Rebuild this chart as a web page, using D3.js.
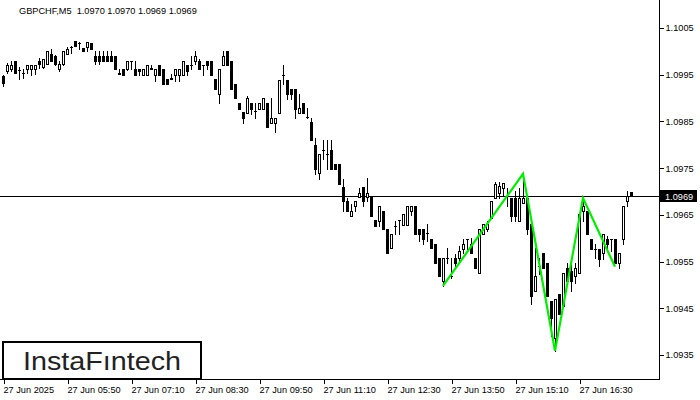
<!DOCTYPE html>
<html><head><meta charset="utf-8">
<script src="https://cdn.jsdelivr.net/npm/d3@7"></script>
<style>
html,body{margin:0;padding:0;background:#fff;}
svg{display:block;}
text{font-family:"Liberation Sans",Arial,sans-serif;}
</style></head>
<body>
<svg id="c" width="700" height="400"></svg>
<script>
const symbolTitle = "GBPCHF,M5  1.0970 1.0970 1.0969 1.0969";
const openV = [1.09947,1.09958,1.09962,1.09980,1.09960,1.09954,1.09962,1.09962,1.09962,1.09980,
1.09967,1.09973,1.09995,1.09990,1.09962,1.09973,1.09995,1.10010,1.10022,1.10018,
1.10007,1.10010,1.10018,1.09990,1.09990,1.09990,1.09990,1.09990,1.09990,1.09952,
1.09962,1.09962,1.09980,1.09962,1.09962,1.09950,1.09950,1.09962,1.09950,1.09971,
1.09962,1.09941,1.09941,1.09950,1.09950,1.09950,1.09971,1.09971,1.09980,1.09980,
1.09971,1.09980,1.09980,1.09941,1.09909,1.09971,1.10001,1.09980,1.09930,1.09890,
1.09870,1.09868,1.09890,1.09873,1.09877,1.09877,1.09890,1.09847,1.09847,1.09868,
1.09950,1.09939,1.09920,1.09920,1.09868,1.09890,1.09860,1.09849,1.09800,1.09740,
1.09789,1.09781,1.09789,1.09759,1.09759,1.09710,1.09680,1.09648,1.09669,1.09689,
1.09710,1.09689,1.09689,1.09639,1.09637,1.09659,1.09620,1.09579,1.09626,1.09639,
1.09629,1.09629,1.09659,1.09669,1.09620,1.09620,1.09611,1.09599,1.09588,1.09558,
1.09509,1.09558,1.09519,1.09558,1.09558,1.09577,1.09599,1.09588,1.09558,1.09526,
1.09609,1.09620,1.09644,1.09686,1.09697,1.09708,1.09691,1.09686,1.09686,1.09637,
1.09676,1.09686,1.09631,1.09487,1.09541,1.09569,1.09547,1.09466,1.09387,1.09481,
1.09455,1.09537,1.09530,1.09519,1.09526,1.09659,1.09659,1.09599,1.09577,1.09577,
1.09569,1.09599,1.09599,1.09599,1.09547,1.09599,1.09680,1.09700];
const highV = [1.09950,1.09975,1.09980,1.09980,1.09967,1.09962,1.09971,1.09971,1.09971,1.09986,
1.09984,1.10001,1.10005,1.09992,1.09980,1.10001,1.10010,1.10012,1.10022,1.10020,
1.10007,1.10020,1.10018,1.10001,1.10001,1.10001,1.10001,1.10001,1.09990,1.09962,
1.09962,1.09980,1.09980,1.09980,1.09962,1.09962,1.09971,1.09971,1.09962,1.09971,
1.09962,1.09941,1.09952,1.09962,1.09962,1.09980,1.09971,1.09990,1.10001,1.09984,
1.09971,1.09980,1.09980,1.09941,1.09962,1.10001,1.10001,1.09980,1.09930,1.09890,
1.09870,1.09905,1.09890,1.09890,1.09890,1.09900,1.09890,1.09900,1.09858,1.09939,
1.09971,1.09939,1.09920,1.09920,1.09909,1.09890,1.09879,1.09858,1.09815,1.09781,
1.09811,1.09811,1.09811,1.09759,1.09759,1.09727,1.09686,1.09674,1.09680,1.09708,
1.09710,1.09729,1.09689,1.09639,1.09669,1.09659,1.09620,1.09609,1.09637,1.09639,
1.09652,1.09669,1.09669,1.09669,1.09620,1.09620,1.09631,1.09599,1.09588,1.09558,
1.09558,1.09579,1.09558,1.09567,1.09584,1.09599,1.09599,1.09601,1.09558,1.09620,
1.09631,1.09637,1.09680,1.09721,1.09721,1.09718,1.09708,1.09686,1.09701,1.09708,
1.09738,1.09686,1.09631,1.09579,1.09558,1.09569,1.09547,1.09466,1.09470,1.09481,
1.09526,1.09547,1.09547,1.09547,1.09652,1.09686,1.09659,1.09599,1.09588,1.09577,
1.09609,1.09605,1.09599,1.09599,1.09569,1.09669,1.09701,1.09700];
const lowV = [1.09926,1.09954,1.09958,1.09954,1.09941,1.09943,1.09954,1.09950,1.09952,1.09965,
1.09965,1.09973,1.09980,1.09971,1.09958,1.09971,1.09995,1.09997,1.10012,1.10005,
1.10001,1.10001,1.10005,1.09973,1.09973,1.09980,1.09980,1.09980,1.09962,1.09952,
1.09950,1.09960,1.09962,1.09950,1.09950,1.09950,1.09950,1.09962,1.09937,1.09950,
1.09930,1.09930,1.09941,1.09937,1.09937,1.09950,1.09950,1.09962,1.09973,1.09962,
1.09950,1.09962,1.09950,1.09920,1.09890,1.09971,1.09971,1.09920,1.09900,1.09877,
1.09847,1.09868,1.09866,1.09858,1.09877,1.09877,1.09838,1.09847,1.09828,1.09868,
1.09930,1.09898,1.09898,1.09858,1.09868,1.09868,1.09858,1.09811,1.09738,1.09727,
1.09770,1.09748,1.09748,1.09748,1.09716,1.09659,1.09659,1.09648,1.09659,1.09689,
1.09669,1.09680,1.09648,1.09626,1.09626,1.09620,1.09569,1.09579,1.09609,1.09609,
1.09629,1.09629,1.09650,1.09609,1.09594,1.09588,1.09594,1.09579,1.09547,1.09519,
1.09498,1.09547,1.09515,1.09537,1.09547,1.09569,1.09573,1.09569,1.09537,1.09526,
1.09609,1.09616,1.09644,1.09686,1.09686,1.09691,1.09669,1.09637,1.09637,1.09637,
1.09676,1.09609,1.09460,1.09487,1.09524,1.09537,1.09477,1.09391,1.09359,1.09438,
1.09455,1.09509,1.09487,1.09505,1.09526,1.09637,1.09609,1.09577,1.09558,1.09541,
1.09556,1.09573,1.09573,1.09547,1.09537,1.09588,1.09669,1.09690];
const closeV = [1.09932,1.09971,1.09971,1.09954,1.09960,1.09954,1.09971,1.09971,1.09971,1.09973,
1.09984,1.10001,1.09980,1.09973,1.09973,1.10001,1.10005,1.10010,1.10012,1.10018,
1.10001,1.10020,1.10005,1.09980,1.09980,1.09980,1.09980,1.09980,1.09962,1.09954,
1.09950,1.09980,1.09980,1.09950,1.09958,1.09962,1.09971,1.09965,1.09962,1.09950,
1.09930,1.09930,1.09943,1.09962,1.09962,1.09980,1.09958,1.09971,1.09990,1.09962,
1.09971,1.09971,1.09950,1.09920,1.09962,1.09990,1.09971,1.09920,1.09900,1.09877,
1.09858,1.09900,1.09877,1.09873,1.09890,1.09900,1.09838,1.09858,1.09858,1.09939,
1.09950,1.09909,1.09909,1.09877,1.09879,1.09868,1.09860,1.09811,1.09748,1.09781,
1.09789,1.09781,1.09748,1.09748,1.09716,1.09680,1.09659,1.09659,1.09680,1.09697,
1.09680,1.09697,1.09648,1.09626,1.09669,1.09620,1.09569,1.09609,1.09626,1.09639,
1.09652,1.09669,1.09669,1.09609,1.09609,1.09599,1.09611,1.09579,1.09547,1.09519,
1.09558,1.09558,1.09519,1.09547,1.09573,1.09588,1.09599,1.09569,1.09537,1.09620,
1.09631,1.09631,1.09680,1.09716,1.09712,1.09718,1.09691,1.09648,1.09648,1.09686,
1.09686,1.09620,1.09477,1.09519,1.09541,1.09537,1.09477,1.09430,1.09470,1.09438,
1.09526,1.09509,1.09509,1.09537,1.09652,1.09669,1.09609,1.09577,1.09577,1.09556,
1.09609,1.09588,1.09599,1.09547,1.09569,1.09669,1.09691,1.09690];
const timeTickIdx = [0,16,32,48,64,80,96,112,128,144];
const timeLabels = ["27 Jun 2025","27 Jun 05:50","27 Jun 07:10","27 Jun 08:30","27 Jun 09:50","27 Jun 11:10","27 Jun 12:30","27 Jun 13:50","27 Jun 15:10","27 Jun 16:30"];
const priceTicks = [1.1005,1.0995,1.0985,1.0975,1.0965,1.0955,1.0945,1.0935];
const currentPrice = 1.0969;
const patternIdx = [110,130,138,145,153];
const patternPrice = [1.09498,1.09738,1.09359,1.09686,1.09539];
const logoText = "InstaFıntech";

const svg = d3.select("#c");
const x = d3.scaleLinear().domain([0,16]).range([3,67]);
const y = d3.scaleLinear().domain([1.0935,1.1005]).range([355,28]);
const R = 659, B = 379;

const g = svg.append("g").attr("shape-rendering","crispEdges");
const data = openV.map((o,i)=>({i,o,h:highV[i],l:lowV[i],c:closeV[i]}));

// current price line
g.append("line").attr("x1",0).attr("x2",R).attr("y1",Math.round(y(currentPrice))+0.5).attr("y2",Math.round(y(currentPrice))+0.5).attr("stroke","#000");

// wicks
g.selectAll("rect.w").data(data).enter().append("rect").attr("class","w")
 .attr("x",d=>Math.round(x(d.i)))
 .attr("y",d=>Math.round(y(d.h)))
 .attr("width",1)
 .attr("height",d=>Math.round(y(d.l))-Math.round(y(d.h))+1)
 .attr("fill","#000");
// bodies
data.forEach(d=>{
  const cx = Math.round(x(d.i));
  const top = Math.round(y(Math.max(d.o,d.c)));
  const bot = Math.round(y(Math.min(d.o,d.c)));
  if (d.c > d.o && bot-top>=2) {
    g.append("rect").attr("x",cx-1+0.5).attr("y",top+0.5).attr("width",2).attr("height",bot-top)
      .attr("fill","#fff").attr("stroke","#000").attr("stroke-width",1);
  } else {
    g.append("rect").attr("x",cx-1).attr("y",top).attr("width",3).attr("height",Math.max(1,bot-top+1)).attr("fill","#000");
  }
});

// pattern line
const pts = patternIdx.map((k,j)=>[x(k),y(patternPrice[j])]);
svg.append("path").attr("d",d3.line()(pts)).attr("fill","none").attr("stroke","#00ee00").attr("stroke-width",2.2).attr("stroke-linejoin","miter");

// frame
g.append("line").attr("x1",R+0.5).attr("x2",R+0.5).attr("y1",0).attr("y2",B+1).attr("stroke","#000");
g.append("line").attr("x1",0).attr("x2",R+1).attr("y1",B+0.5).attr("y2",B+0.5).attr("stroke","#000");

// right axis
const ya = svg.append("g").attr("transform",`translate(${R+0.5},0)`)
  .call(d3.axisRight(y).tickValues(priceTicks).tickSize(4).tickPadding(2).tickFormat(d3.format(".4f")));
ya.select(".domain").remove();
ya.selectAll("line").attr("stroke","#000").attr("shape-rendering","crispEdges");
ya.selectAll("text").attr("font-family","Liberation Sans, Arial, sans-serif").attr("font-size","9.2px").attr("fill","#000");

// bottom axis
const xa = svg.append("g").attr("transform",`translate(0.5,${B+0.5})`)
  .call(d3.axisBottom(x).tickValues(timeTickIdx).tickSize(4).tickPadding(3).tickFormat((d,k)=>timeLabels[k]));
xa.select(".domain").remove();
xa.selectAll("line").attr("stroke","#000").attr("shape-rendering","crispEdges");
xa.selectAll("text").attr("font-family","Liberation Sans, Arial, sans-serif").attr("font-size","9.2px").attr("fill","#000").attr("text-anchor","start").attr("x",-0.5);

// price label
const py = Math.round(y(currentPrice));
svg.append("rect").attr("x",660).attr("y",py-6).attr("width",37).attr("height",12).attr("fill","#000");
svg.append("text").attr("x",665).attr("y",py+3.5).attr("font-size","9.2px").attr("fill","#fff").text(d3.format(".4f")(currentPrice));

// title
svg.append("text").attr("x",19).attr("y",14).attr("font-size","9.2px").attr("fill","#000").attr("xml:space","preserve").style("white-space","pre").text(symbolTitle);

// logo
svg.append("rect").attr("x",3).attr("y",342).attr("width",198).attr("height",37).attr("fill","#fff").attr("stroke","#000").attr("stroke-width",2);
svg.append("text").attr("x",23).attr("y",369.5).attr("font-family","Inter, 'Noto Sans', sans-serif").attr("font-weight",500)
  .attr("font-size","25px").attr("fill","#222").attr("textLength",158).attr("lengthAdjust","spacingAndGlyphs").text(logoText);
</script>
</body></html>
